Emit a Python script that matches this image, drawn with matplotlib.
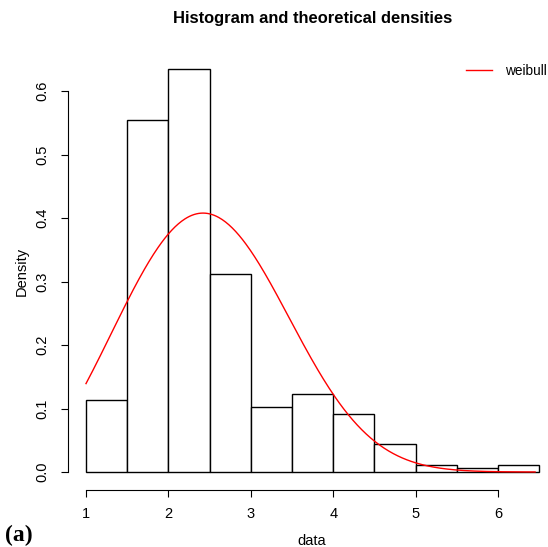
import numpy as np
import matplotlib
matplotlib.use("Agg")
import matplotlib.pyplot as plt

# histogram (R style, breaks every 0.5)
bin_edges = [1.0, 1.5, 2.0, 2.5, 3.0, 3.5, 4.0, 4.5, 5.0, 5.5, 6.0, 6.5]
densities = [0.113, 0.554, 0.635, 0.312, 0.102, 0.123, 0.091, 0.044, 0.011, 0.006, 0.011]

# fitted weibull
weibull_shape = 2.9
weibull_scale = 2.8
curve_range = [1.0, 6.45]

x_ticks = [1, 2, 3, 4, 5, 6]
y_ticks = [0.0, 0.1, 0.2, 0.3, 0.4, 0.5, 0.6]

plt.rcParams['font.family'] = ['Liberation Sans', 'DejaVu Sans']

W, H = 548, 547
fig = plt.figure(figsize=(W / 100, H / 100), dpi=100)

# plot region in pixels (R style, 4% padding)
left_px, right_px, top_px, bottom_px = 67.7, 556, 53, 490
ax = fig.add_axes([left_px / W, 1 - bottom_px / H,
                   (right_px - left_px) / W, (bottom_px - top_px) / H])

edges = np.array(bin_edges)
ax.bar(edges[:-1], densities, width=np.diff(edges), align='edge',
       facecolor='white', edgecolor='black', linewidth=1.0)

xs = np.linspace(curve_range[0], curve_range[1], 400)
k, lam = weibull_shape, weibull_scale
pdf = (k / lam) * (xs / lam) ** (k - 1) * np.exp(-(xs / lam) ** k)
ax.plot(xs, pdf, color='red', linewidth=1.0, label='weibull')

ax.set_xlim(1 - (86 - left_px) / 82.4, 1 + (right_px - 86) / 82.4)
ax.set_ylim(-(bottom_px - 472) / 635, (472 - top_px) / 635)

for s in ['top', 'right']:
    ax.spines[s].set_visible(False)
ax.spines['left'].set_bounds(0, 0.6)
ax.spines['bottom'].set_bounds(1, 6)
ax.set_xticks(x_ticks)
ax.set_xticklabels([str(t) for t in x_ticks])
ax.set_yticks(y_ticks)
ax.set_yticklabels(['%.1f' % t for t in y_ticks], rotation=90, va='center')
ax.tick_params(axis='both', length=5, width=0.8, labelsize=10.5)
ax.tick_params(axis='x', pad=7)
ax.tick_params(axis='y', pad=8)

fig.text(313 / W, 1 - 19 / H, 'Histogram and theoretical densities',
         ha='center', va='center', fontsize=11.9, fontweight='bold')
fig.text(312 / W, 1 - 541 / H, 'data', ha='center', va='center', fontsize=10.5)
fig.text(22 / W, 1 - 271 / H, 'Density', ha='center', va='center',
         fontsize=10.5, rotation=90)
fig.text(5 / W, 1 - 535 / H, '(a)', ha='left', va='center', fontsize=17,
         fontweight='bold', family=['Liberation Serif', 'DejaVu Serif'])

ax.legend(loc='upper left', bbox_to_anchor=(466 / W, 1 - 64 / H),
          bbox_transform=fig.transFigure, frameon=False, fontsize=9.8,
          handlelength=1.9, handletextpad=0.95, borderaxespad=0, borderpad=0)

fig.savefig('out.png', dpi=100)
